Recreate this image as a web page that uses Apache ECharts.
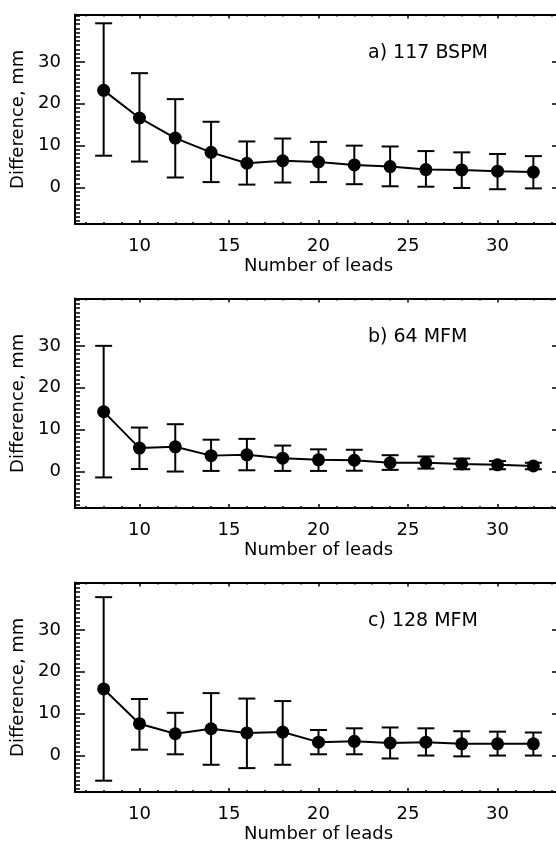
<!DOCTYPE html>
<html>
<head>
<meta charset="utf-8">
<script src="https://cdn.jsdelivr.net/npm/echarts@6/dist/echarts.min.js"></script>
<style>
html, body { margin: 0; padding: 0; background: #fff; }
#chart { width: 556px; height: 845px; }
</style>
</head>
<body>
<div id="chart"></div>
<script>
// number of leads (x)
var leads = [8, 10, 12, 14, 16, 18, 20, 22, 24, 26, 28, 30, 32];

// a) 117 BSPM
var meanA = [23.2, 16.6, 11.8, 8.4, 5.8, 6.4, 6.1, 5.4, 5.0, 4.3, 4.2, 3.9, 3.7];
var hiA   = [39.2, 27.3, 21.1, 15.7, 11.0, 11.7, 10.9, 10.0, 9.8, 8.7, 8.4, 8.0, 7.5];
var loA   = [7.6, 6.2, 2.4, 1.3, 0.7, 1.2, 1.3, 0.8, 0.3, 0.2, -0.1, -0.4, -0.2];

// b) 64 MFM
var meanB = [14.3, 5.6, 5.9, 3.8, 4.0, 3.2, 2.8, 2.7, 2.1, 2.1, 1.8, 1.6, 1.35];
var hiB   = [30.0, 10.5, 11.3, 7.6, 7.8, 6.2, 5.3, 5.2, 3.9, 3.6, 3.1, 2.5, 2.1];
var loB   = [-1.4, 0.6, 0.0, 0.15, 0.3, 0.15, 0.15, 0.2, 0.4, 0.7, 0.55, 0.55, 0.55];

// c) 128 MFM
var meanC = [15.9, 7.6, 5.2, 6.4, 5.4, 5.6, 3.2, 3.4, 3.0, 3.2, 2.8, 2.8, 2.8];
var hiC   = [37.8, 13.5, 10.2, 14.9, 13.6, 13.0, 6.1, 6.5, 6.7, 6.5, 5.8, 5.7, 5.5];
var loC   = [-6.0, 1.4, 0.3, -2.2, -3.0, -2.2, 0.3, 0.3, -0.7, 0.0, -0.2, 0.0, 0.0];

var panelLabels = ['a) 117 BSPM', 'b) 64 MFM', 'c) 128 MFM'];
var xMajorTicks = [10, 15, 20, 25, 30];
var yMajorTicks = [0, 10, 20, 30];

var X_MIN = 6.4, X_MAX = 33.6;
var Y_MIN = -8.7, Y_MAX = 41.3;
var FONT = 'DejaVu Sans';

var xMinorTicks = [];
for (var i = 7; i <= 33; i++) xMinorTicks.push(i);
var yMinorTicks = [];
for (var j = -8; j <= 41; j++) yMinorTicks.push(j);

var panelTops = [14.5, 298.5, 582.5];
var panels = [
  { mean: meanA, lo: loA, hi: hiA },
  { mean: meanB, lo: loB, hi: hiB },
  { mean: meanC, lo: loC, hi: hiC }
];

var black = '#000';
var textStyle = { color: black, fontSize: 18, fontFamily: FONT };

var renderErrorBar = function (params, api) {
  var x = api.value(0);
  var top = api.coord([x, api.value(2)]);
  var bot = api.coord([x, api.value(1)]);
  var hw = 8.5;
  var style = { stroke: black, lineWidth: 2 };
  return {
    type: 'group',
    children: [
      { type: 'line', shape: { x1: top[0], y1: top[1], x2: bot[0], y2: bot[1] }, style: style },
      { type: 'line', shape: { x1: top[0] - hw, y1: top[1], x2: top[0] + hw, y2: top[1] }, style: style },
      { type: 'line', shape: { x1: bot[0] - hw, y1: bot[1], x2: bot[0] + hw, y2: bot[1] }, style: style }
    ]
  };
};

var grids = [], xAxes = [], yAxes = [], series = [], titles = [];

panels.forEach(function (p, k) {
  grids.push({ left: 75, top: panelTops[k], width: 487, height: 209.5, outerBoundsMode: 'none' });

  var xBase = {
    gridIndex: k, type: 'value', min: X_MIN, max: X_MAX,
    splitLine: { show: false }
  };
  // bottom, major ticks with labels
  xAxes.push(Object.assign({}, xBase, {
    position: 'bottom',
    axisLine: { show: true, onZero: false, lineStyle: { color: black, width: 2 } },
    axisTick: { show: true, inside: true, length: 4, customValues: xMajorTicks, lineStyle: { color: black, width: 1.5 } },
    axisLabel: Object.assign({ customValues: xMajorTicks, margin: 13 }, textStyle),
    name: 'Number of leads', nameLocation: 'middle', nameGap: 33,
    nameTextStyle: textStyle
  }));
  // bottom, minor ticks
  xAxes.push(Object.assign({}, xBase, {
    position: 'bottom',
    axisLine: { show: false, onZero: false },
    axisTick: { show: true, inside: true, length: 2, customValues: xMinorTicks, lineStyle: { color: black, width: 1.5 } },
    axisLabel: { show: false }
  }));
  // top, major
  xAxes.push(Object.assign({}, xBase, {
    position: 'top',
    axisLine: { show: true, onZero: false, lineStyle: { color: black, width: 2 } },
    axisTick: { show: true, inside: true, length: 4, customValues: xMajorTicks, lineStyle: { color: black, width: 1.5 } },
    axisLabel: { show: false }
  }));
  // top, minor
  xAxes.push(Object.assign({}, xBase, {
    position: 'top',
    axisLine: { show: false, onZero: false },
    axisTick: { show: true, inside: true, length: 2, customValues: xMinorTicks, lineStyle: { color: black, width: 1.5 } },
    axisLabel: { show: false }
  }));

  var yBase = {
    gridIndex: k, type: 'value', min: Y_MIN, max: Y_MAX,
    splitLine: { show: false }
  };
  yAxes.push(Object.assign({}, yBase, {
    position: 'left',
    axisLine: { show: true, onZero: false, lineStyle: { color: black, width: 2 } },
    axisTick: { show: true, inside: true, length: 10, customValues: yMajorTicks, lineStyle: { color: black, width: 1.5 } },
    axisLabel: Object.assign({ customValues: yMajorTicks, margin: 14 }, textStyle),
    name: 'Difference, mm', nameLocation: 'middle', nameGap: 46, nameRotate: 90,
    nameTextStyle: textStyle
  }));
  yAxes.push(Object.assign({}, yBase, {
    position: 'left',
    axisLine: { show: false, onZero: false },
    axisTick: { show: true, inside: true, length: 5, customValues: yMinorTicks, lineStyle: { color: black, width: 1.5 } },
    axisLabel: { show: false }
  }));
  yAxes.push(Object.assign({}, yBase, {
    position: 'right',
    axisLine: { show: true, onZero: false, lineStyle: { color: black, width: 2 } },
    axisTick: { show: true, inside: true, length: 10, customValues: yMajorTicks, lineStyle: { color: black, width: 1.5 } },
    axisLabel: { show: false }
  }));

  var barData = leads.map(function (x, n) { return [x, p.lo[n], p.hi[n]]; });
  var lineData = leads.map(function (x, n) { return [x, p.mean[n]]; });

  series.push({
    type: 'custom',
    xAxisIndex: k * 4, yAxisIndex: k * 3,
    renderItem: renderErrorBar,
    encode: { x: 0, y: [1, 2] },
    data: barData,
    z: 2
  });
  series.push({
    type: 'line',
    xAxisIndex: k * 4, yAxisIndex: k * 3,
    data: lineData,
    symbol: 'circle', symbolSize: 13,
    itemStyle: { color: black },
    lineStyle: { color: black, width: 2 },
    z: 3
  });

  titles.push({
    text: panelLabels[k],
    left: 368, top: panelTops[k] + 29,
    padding: 0,
    textStyle: { color: black, fontSize: 19, fontWeight: 'normal', fontFamily: FONT }
  });
});

var chart = echarts.init(document.getElementById('chart'));
chart.setOption({
  animation: false,
  backgroundColor: '#fff',
  title: titles,
  grid: grids,
  xAxis: xAxes,
  yAxis: yAxes,
  series: series
});
</script>
</body>
</html>
